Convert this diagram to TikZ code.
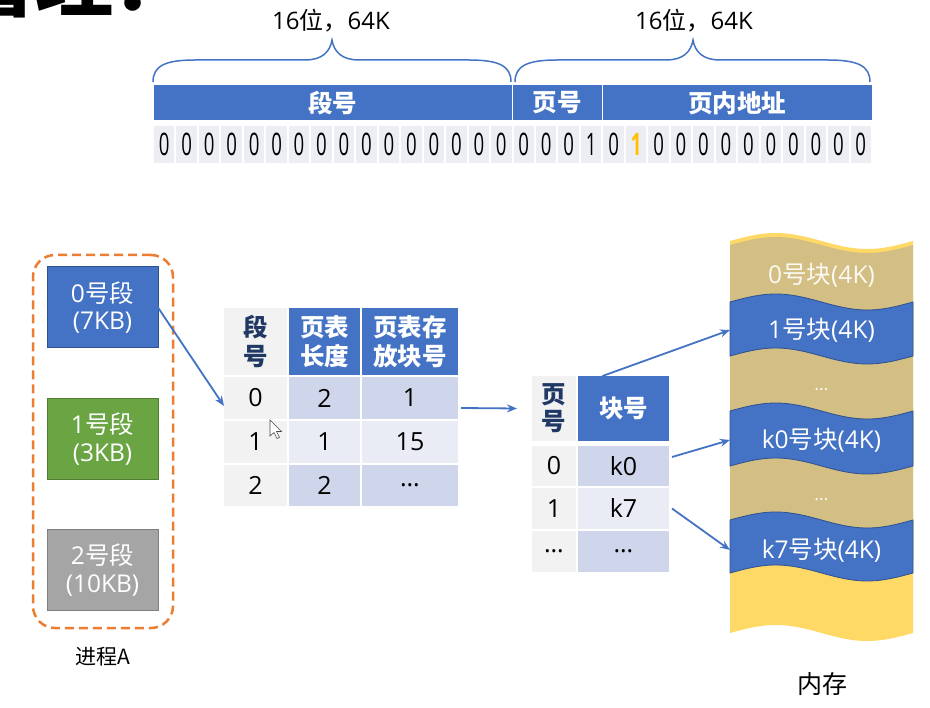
\documentclass[tikz,border=0pt]{standalone}
\usepackage{fontspec}
\usepackage{graphicx}
\setmainfont{Open Sans}
\newfontfamily\cjk{Noto Sans CJK SC}
\newcommand\zh[1]{{\cjk #1}}
\usetikzlibrary{arrows.meta}
\definecolor{mblue}{HTML}{4472C4}
\definecolor{dblue}{HTML}{2F528F}
\definecolor{navy}{HTML}{203864}
\definecolor{mgreen}{HTML}{6AA443}
\definecolor{dgreen}{HTML}{507E32}
\definecolor{mgray}{HTML}{A5A5A5}
\definecolor{dgray}{HTML}{7F7F7F}
\definecolor{morange}{HTML}{ED7D31}
\definecolor{gold}{HTML}{FFC000}
\definecolor{lgray}{HTML}{F2F2F2}
\definecolor{cellA}{HTML}{CFD5EA}
\definecolor{cellB}{HTML}{E9EBF5}
\definecolor{bitbg}{HTML}{ECEEF4}
\definecolor{tan}{HTML}{D3BE83}
\definecolor{myellow}{HTML}{FFD966}
\newcommand\band[3]{\filldraw[#1] (730,#2) sin (775.75,#2-8) cos (821.5,#2) sin (867.25,#2+8) cos (913,#2) -- (913,#3) sin (867.25,#3+8) cos (821.5,#3) sin (775.75,#3-8) cos (730,#3) -- cycle;}
\begin{document}
\begin{tikzpicture}[x=1pt,y=-1pt,
  cell/.style={inner sep=0pt,outer sep=0pt,align=center},
  hd/.style={cell,fill=mblue,text=white,font=\cjk\bfseries\fontsize{24.5}{29}\selectfont},
  hdl/.style={cell,fill=lgray,text=navy,font=\cjk\bfseries\fontsize{24.5}{29}\selectfont},
  bd/.style={cell,font=\fontsize{25}{28}\selectfont},
  bitc/.style={cell,fill=bitbg,minimum width=20.5pt,minimum height=37pt,font=\fontsize{31}{32}\selectfont},
  segbox/.style={cell,minimum width=111pt,minimum height=81pt,text=white,line width=1pt,font=\fontsize{24.5}{27.5}\selectfont},
  memtxt/.style={cell,minimum width=183pt,text=white,font=\fontsize{24.5}{27}\selectfont},
  lbl/.style={cell,font=\fontsize{24}{27}\selectfont},
  brace/.style={draw=mblue,line width=1.5pt},
  link/.style={draw=mblue,line width=1.8pt,-{Stealth[length=10pt,width=8pt]}},
]
\useasboundingbox[fill=white] (0,0) rectangle (930,708);

% cropped title (only its lower edge shows, as in the reference)
\node[cell,anchor=base west,font=\cjk\bfseries\fontsize{78}{80}\selectfont] (title) at (-42,11) {管理：};

% braces and labels
\node[lbl] (l1) at (331,21) {16\zh{位，}64K};
\node[lbl] (l2) at (694,21) {16\zh{位，}64K};
\draw[brace] (153,82) .. controls (153,66) and (165,60) .. (195,60) -- (305,60) .. controls (322,60) and (330,52) .. (332,40) .. controls (334,52) and (342,60) .. (359,60) -- (469,60) .. controls (499,60) and (511,66) .. (511,82);
\draw[brace] (515,82) .. controls (515,66) and (527,60) .. (557,60) -- (666,60) .. controls (683,60) and (691,52) .. (693,40) .. controls (695,52) and (703,60) .. (720,60) -- (828,60) .. controls (858,60) and (870,66) .. (870,82);

% address header bar
\node[hd,minimum width=359pt,minimum height=36pt,draw=white,line width=1pt] (hseg) at (332.5,103) {段号};
\node[hd,minimum width=90.4pt,minimum height=36pt,draw=white,line width=1pt] (hpg) at (557.2,103) {页号};
\node[hd,minimum width=269.6pt,minimum height=36pt,draw=white,line width=1pt] (hoff) at (737.2,103) {页内地址};

% bits
\foreach \b [count=\i from 0] in {0,0,0,0,0,0,0,0,0,0,0,0,0,0,0,0,0,0,0,1,0,{\textcolor{gold}{\textbf{1}}},0,0,0,0,0,0,0,0,0,0}
  \node[bitc] (b\i) at ({153+22.47*(\i+0.5)},144.5) {\scalebox{0.6}[1]{\b}};

% process A
\node[cell,draw=morange,dash pattern=on 9pt off 5pt,line width=2.5pt,rounded corners=22pt,minimum width=140pt,minimum height=373pt] (proc) at (103,441.5) {};
\node[segbox,fill=mblue,draw=dblue] (s0) at (102.5,307.5) {0\zh{号段}\\(7KB)};
\node[segbox,fill=mgreen,draw=dgreen] (s1) at (102.5,439) {1\zh{号段}\\(3KB)};
\node[segbox,fill=mgray,draw=dgray] (s2) at (102.5,570) {2\zh{号段}\\(10KB)};
\node[cell,font=\cjk\fontsize{21}{24}\selectfont] (pa) at (103,657) {进程A};

% segment table
\node[hdl,minimum width=63pt,minimum height=67pt] (th1) at (255.5,341.5) {段\\号};
\node[hd,minimum width=71pt,minimum height=67pt] (th2) at (324.5,341.5) {页表\\长度};
\node[hd,minimum width=96pt,minimum height=67pt] (th3) at (410,341.5) {页表存\\放块号};
\node[bd,fill=lgray,minimum width=63pt,minimum height=42pt] (t0a) at (255.5,398) {0};
\node[bd,fill=cellA,minimum width=71pt,minimum height=42pt] (t0b) at (324.5,398) {2};
\node[bd,fill=cellA,minimum width=96pt,minimum height=42pt] (t0c) at (410,398) {1};
\node[bd,fill=lgray,minimum width=63pt,minimum height=42pt] (t1a) at (255.5,442) {1};
\node[bd,fill=cellB,minimum width=71pt,minimum height=42pt] (t1b) at (324.5,442) {1};
\node[bd,fill=cellB,minimum width=96pt,minimum height=42pt] (t1c) at (410,442) {15};
\node[bd,fill=lgray,minimum width=63pt,minimum height=41pt] (t2a) at (255.5,485.5) {2};
\node[bd,fill=cellA,minimum width=71pt,minimum height=41pt] (t2b) at (324.5,485.5) {2};
\node[bd,fill=cellA,minimum width=96pt,minimum height=41pt] (t2c) at (410,485.5) {\ldots};

% mouse cursor
\filldraw[fill=white,draw=black!70,line width=0.6pt] (270,420) -- ++(0,16) -- ++(4,-3.5) -- ++(3,6) -- ++(2.5,-1) -- ++(-3,-6) -- ++(5,0) -- cycle;

% page table
\node[hdl,minimum width=44pt,minimum height=65pt,font=\cjk\bfseries\fontsize{24.5}{27}\selectfont] (ph1) at (554,408.5) {页\\号};
\node[hd,minimum width=91pt,minimum height=65pt] (ph2) at (623.5,408.5) {块号};
\node[bd,fill=lgray,minimum width=44pt,minimum height=40pt] (p0a) at (554,466) {0};
\node[bd,fill=cellA,minimum width=91pt,minimum height=40pt] (p0b) at (623.5,466) {k0};
\node[bd,fill=lgray,minimum width=44pt,minimum height=41pt] (p1a) at (554,508.5) {1};
\node[bd,fill=cellB,minimum width=91pt,minimum height=41pt] (p1b) at (623.5,508.5) {k7};
\node[bd,fill=lgray,minimum width=44pt,minimum height=41pt] (p2a) at (554,551.5) {\ldots};
\node[bd,fill=cellA,minimum width=91pt,minimum height=41pt] (p2b) at (623.5,551.5) {\ldots};

% memory
\band{fill=myellow,draw=none}{241}{633}
\band{fill=tan,draw=none}{245}{560}
\band{fill=mblue,draw=dblue,line width=0.8pt}{302}{356}
\band{fill=mblue,draw=dblue,line width=0.8pt}{411}{466}
\band{fill=mblue,draw=dblue,line width=0.8pt}{520}{573}
\node[memtxt,text=white!90!tan] (m0) at (821.5,275) {0\zh{号块}(4K)};
\node[memtxt] (m1) at (821.5,330) {1\zh{号块}(4K)};
\node[memtxt,font=\fontsize{18}{20}\selectfont,text=white!90!tan] (md1) at (821.5,390) {\ldots};
\node[memtxt] (mk0) at (821.5,440) {k0\zh{号块}(4K)};
\node[memtxt,font=\fontsize{18}{20}\selectfont,text=white!90!tan] (md2) at (821.5,500) {\ldots};
\node[memtxt] (mk7) at (821.5,550) {k7\zh{号块}(4K)};
\node[cell,font=\cjk\fontsize{25}{28}\selectfont] (mem) at (822,684) {内存};

% connectors
\draw[link] (s0.east) -- ([yshift=-8pt]t0a.west);
\draw[link] ([xshift=3pt,yshift=-10pt]t0c.east) -- ([xshift=-15pt]ph1.west);
\draw[link] ([xshift=-21pt]ph2.north) -- (m1.west);
\draw[link] ([xshift=3pt,yshift=9pt]p0b.east) -- (mk0.west);
\draw[link] ([xshift=3pt]p1b.east) -- (mk7.west);
\end{tikzpicture}
\end{document}
